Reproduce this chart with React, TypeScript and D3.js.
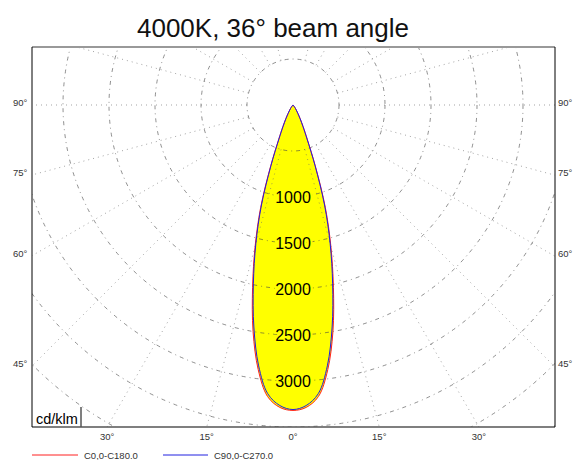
import React from "react";
import * as d3 from "d3";

// polar angles (deg from nadir) and intensities in cd/klm
const angles = [0, 2.5, 5, 7.5, 10, 12.5, 15, 17.5, 20, 22.5, 25, 27.5, 30, 35, 40, 50, 60, 75, 90];
const c0c180 = [3320, 3290, 3180, 2900, 2500, 2030, 1590, 1170, 720, 410, 260, 170, 110, 50, 20, 5, 0, 0, 0];
const c90c270 = [3310, 3270, 3150, 2860, 2450, 1990, 1560, 1140, 700, 400, 255, 165, 105, 48, 18, 5, 0, 0, 0];

const ringValues = [500, 1000, 1500, 2000, 2500, 3000, 3500, 4000, 4500, 5000];
const ringLabels = [1000, 1500, 2000, 2500, 3000];
const spokeAngles = [-165, -150, -135, -120, -105, -90, -75, -60, -45, -30, -15, 15, 30, 45, 60, 75, 90, 105, 120, 135, 150, 165];
const sideTicks = [90, 75, 60, 45];
const bottomTicks = [-30, -15, 0, 15, 30];

const W = 574;
const H = 460;
const frame = { left: 32, right: 555, top: 47, bottom: 427 };
const cx = 293;
const cy = 105;
const font = "Liberation Sans, Arial, sans-serif";

const rad = (deg: number) => (deg * Math.PI) / 180;

export default function App() {
  const r = d3.scaleLinear().domain([0, 500]).range([0, 46]);

  const toPts = (vals: number[]) => {
    const right = angles.map((a, i) => ({ a, v: vals[i] }));
    const left = angles.slice(1).map((a, i) => ({ a: -a, v: vals[i + 1] })).reverse();
    return [...left, ...right];
  };

  const radial = d3
    .lineRadial<{ a: number; v: number }>()
    .angle(d => Math.PI - rad(d.a))
    .radius(d => r(d.v))
    .curve(d3.curveCatmullRomClosed);

  const red = radial(toPts(c0c180)) || "";
  const blue = radial(toPts(c90c270)) || "";

  const rMin = r(500);
  const rMax = r(6000);

  // where a spoke at angle a hits the frame
  const sideY = (a: number) => cy + (cx - frame.left) / Math.tan(rad(a));
  const bottomX = (a: number) => cx + (frame.bottom - cy) * Math.tan(rad(a));

  return (
    <svg width={W} height={H} style={{ position: "absolute", left: 0, top: 0 }}>
      <defs>
        <clipPath id="plotClip">
          <rect x={frame.left} y={frame.top} width={frame.right - frame.left} height={frame.bottom - frame.top} />
        </clipPath>
      </defs>
      <rect width={W} height={H} fill="#fff" />

      <text x={273} y={37} textAnchor="middle" fontFamily={font} fontSize={26} fill="#111">
        4000K, 36° beam angle
      </text>

      <g clipPath="url(#plotClip)">
        <g transform={`translate(${cx},${cy})`}>
          <path d={red} fill="#ffff00" stroke="none" />
          {ringValues.map(v => (
            <circle key={v} r={r(v)} fill="none" stroke="#444" strokeWidth={0.6} strokeDasharray="4,4,1,4" />
          ))}
          {spokeAngles.map(a => (
            <line
              key={a}
              x1={rMin * Math.sin(rad(a))}
              y1={rMin * Math.cos(rad(a))}
              x2={rMax * Math.sin(rad(a))}
              y2={rMax * Math.cos(rad(a))}
              stroke="#666"
              strokeWidth={0.6}
              strokeDasharray="1,4"
            />
          ))}
          <path d={red} fill="none" stroke="#ff2020" strokeWidth={1} />
          <path d={blue} fill="none" stroke="#2020e0" strokeWidth={1} />
          {ringLabels.map(v => (
            <text
              key={v}
              x={0}
              y={r(v)}
              dy="0.36em"
              textAnchor="middle"
              fontFamily={font}
              fontSize={16}
              fill="#000"
              stroke="#ffff00"
              strokeWidth={4}
              paintOrder="stroke"
            >
              {v}
            </text>
          ))}
        </g>
      </g>

      {/* cd/klm box */}
      <line x1={81} x2={81} y1={407} y2={frame.bottom} stroke="#000" strokeWidth={1} />
      <text x={36} y={424} fontFamily={font} fontSize={14.5} fill="#000">
        cd/klm
      </text>

      {/* frame */}
      <line x1={frame.left} x2={frame.right} y1={frame.top} y2={frame.top} stroke="#999" strokeWidth={2} />
      <line x1={frame.left} x2={frame.right} y1={frame.bottom} y2={frame.bottom} stroke="#555" strokeWidth={1.5} />
      <line x1={frame.left} x2={frame.left} y1={frame.top} y2={frame.bottom} stroke="#000" strokeWidth={1} />
      <line x1={frame.right} x2={frame.right} y1={frame.top} y2={frame.bottom} stroke="#000" strokeWidth={1} />

      {/* angle labels */}
      {sideTicks.map(a => (
        <g key={a} fontFamily={font} fontSize={9.5} fill="#333">
          <text x={13} y={sideY(a) + 1}>{a}°</text>
          <text x={558} y={sideY(a) + 1}>{a}°</text>
        </g>
      ))}
      {bottomTicks.map(a => (
        <text key={a} x={bottomX(a)} y={440} textAnchor="middle" fontFamily={font} fontSize={9.5} fill="#333">
          {Math.abs(a)}°
        </text>
      ))}

      {/* legend */}
      <line x1={32} x2={78} y1={455} y2={455} stroke="#ff2020" strokeWidth={1} />
      <text x={84} y={458.5} fontFamily={font} fontSize={9.5} fill="#333">C0,0-C180.0</text>
      <line x1={163} x2={208} y1={455} y2={455} stroke="#2020e0" strokeWidth={1} />
      <text x={214} y={458.5} fontFamily={font} fontSize={9.5} fill="#333">C90,0-C270.0</text>
    </svg>
  );
}
